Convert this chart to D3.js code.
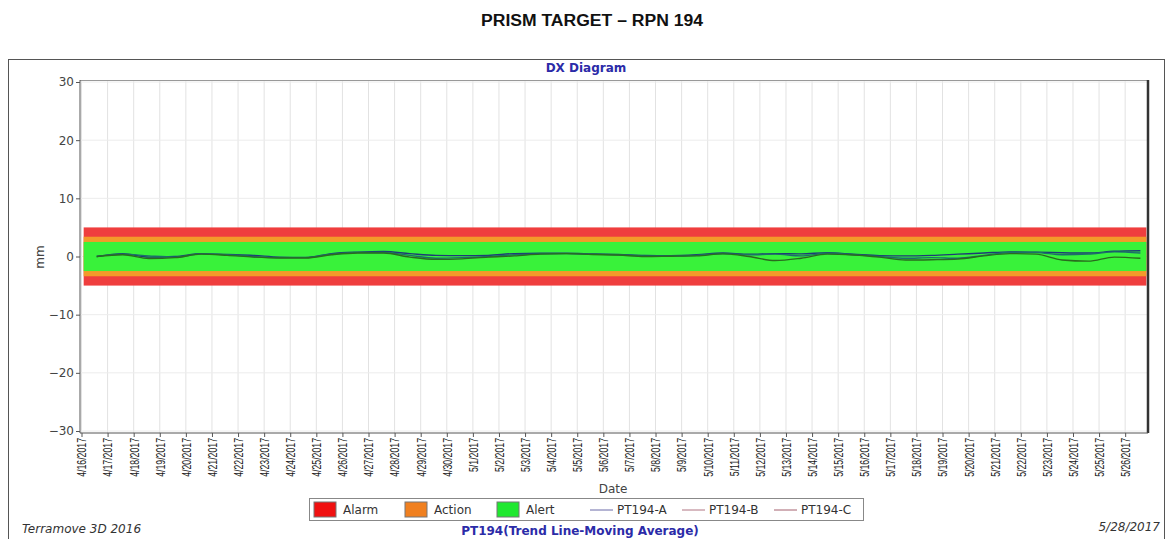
<!doctype html>
<html>
<head>
    <meta charset="utf-8">
    <title>PRISM TARGET - RPN 194</title>
    <script src="https://d3js.org/d3.v7.min.js"></script>
    <style type="text/css">
        html, body { margin: 0; background: #fff; }
        svg { display: block; }
        .ui { font-family: "DejaVu Sans", "Noto Sans", sans-serif; }
        .tk { font-family: "Liberation Sans", Arial, sans-serif; }
    </style>
</head>
<body>
<svg id="chart" width="1166" height="539"></svg>
<script type="text/javascript">
    // tick labels along the date axis
    var tickLabels = ["4/16/2017","4/17/2017","4/18/2017","4/19/2017","4/20/2017","4/21/2017","4/22/2017",
        "4/23/2017","4/24/2017","4/25/2017","4/26/2017","4/27/2017","4/28/2017","4/29/2017","4/30/2017",
        "5/1/2017","5/2/2017","5/3/2017","5/4/2017","5/5/2017","5/6/2017","5/7/2017","5/8/2017","5/9/2017",
        "5/10/2017","5/11/2017","5/12/2017","5/13/2017","5/14/2017","5/15/2017","5/16/2017","5/17/2017",
        "5/18/2017","5/19/2017","5/20/2017","5/21/2017","5/22/2017","5/23/2017","5/24/2017","5/25/2017","5/26/2017"];

    // sample times (one reading per day, afternoon)
    var sampleTimes = ["4/16/2017 14:00","4/17/2017 14:00","4/18/2017 14:00","4/19/2017 14:00","4/20/2017 14:00",
        "4/21/2017 14:00","4/22/2017 14:00","4/23/2017 14:00","4/24/2017 14:00","4/25/2017 14:00","4/26/2017 14:00",
        "4/27/2017 14:00","4/28/2017 14:00","4/29/2017 14:00","4/30/2017 14:00","5/1/2017 14:00","5/2/2017 14:00",
        "5/3/2017 14:00","5/4/2017 14:00","5/5/2017 14:00","5/6/2017 14:00","5/7/2017 14:00","5/8/2017 14:00",
        "5/9/2017 14:00","5/10/2017 14:00","5/11/2017 14:00","5/12/2017 14:00","5/13/2017 14:00","5/14/2017 14:00",
        "5/15/2017 14:00","5/16/2017 14:00","5/17/2017 14:00","5/18/2017 14:00","5/19/2017 14:00","5/20/2017 14:00",
        "5/21/2017 14:00","5/22/2017 14:00","5/23/2017 14:00","5/24/2017 14:00","5/25/2017 14:00","5/26/2017 14:00"];

    var seriesNames = ["PT194-A", "PT194-B", "PT194-C"];

    var valuesA = [0.0, 0.5, -0.1, 0.0, 0.5, 0.35, 0.2, -0.1, -0.15, 0.5, 0.75, 0.85, 0.5, 0.2, 0.15, 0.2, 0.5, 0.55,
        0.55, 0.45, 0.35, 0.2, 0.15, 0.3, 0.6, 0.4, 0.5, 0.45, 0.65, 0.4, 0.15, 0.1, 0.2, 0.4, 0.6, 0.8, 0.75, 0.65,
        0.6, 0.9, 1.0];
    var valuesB = [0.0, 0.4, 0.1, -0.1, 0.45, 0.3, 0.0, -0.2, -0.2, 0.4, 0.7, 0.7, 0.2, -0.3, -0.2, 0.0, 0.3, 0.45,
        0.5, 0.4, 0.3, 0.1, 0.1, 0.2, 0.5, 0.3, 0.4, 0.1, 0.55, 0.3, 0.0, -0.3, -0.2, -0.3, 0.2, 0.7, 0.7, 0.3, 0.4,
        0.8, 0.6];
    var valuesC = [0.0, 0.3, -0.35, -0.2, 0.4, 0.2, -0.1, -0.25, -0.25, 0.3, 0.6, 0.6, -0.1, -0.5, -0.4, -0.1, 0.1,
        0.4, 0.5, 0.35, 0.25, 0.0, 0.05, 0.1, 0.45, 0.0, -0.7, -0.3, 0.4, 0.25, -0.1, -0.6, -0.55, -0.45, 0.1, 0.5,
        0.4, -0.6, -0.8, -0.1, -0.3];

    // threshold bands (mm, symmetric about zero)
    var bandNames = ["Alarm", "Action", "Alert"];
    var bandLimits = [5, 3.4, 2.5];

    var yTicks = [-30, -20, -10, 0, 10, 20, 30];

    var bandColors = ["#ef3e3e", "#f39a2a", "#39f23a"];
    var swatchColors = ["#f01010", "#f08020", "#20e830"];
    var lineColors = ["#1e3a78", "#1c6e6a", "#2a6a1e"];
    var legendLineColors = ["#6a6aa8", "#b07482", "#a4606e"];

    var parseDay = d3.timeParse("%m/%d/%Y");
    var parseTime = d3.timeParse("%m/%d/%Y %H:%M");

    var svg = d3.select("#chart");
    var pLeft = 80, pRight = 1148, pTop = 80, pBottom = 433;

    var x = d3.scaleTime()
        .domain([parseDay(tickLabels[0]), parseTime("5/26/2017 21:00")])
        .range([pLeft + 1.5, pRight]);
    var y = d3.scaleLinear().domain([-30, 30]).range([431, 82]);

    // main title
    svg.append("text").attr("class", "tk")
        .attr("x", 592).attr("y", 26).attr("text-anchor", "middle")
        .attr("textLength", 222).attr("lengthAdjust", "spacingAndGlyphs")
        .style("font-size", "16px").style("font-weight", "bold").style("fill", "#111")
        .text("PRISM TARGET \u2013 RPN 194");

    // outer frame
    svg.append("rect").attr("x", 8.5).attr("y", 59.5).attr("width", 1156).attr("height", 500)
        .attr("fill", "none").attr("stroke", "#555").attr("stroke-width", 1);

    svg.append("text").attr("class", "ui")
        .attr("x", 586).attr("y", 72).attr("text-anchor", "middle")
        .style("font-size", "12px").style("font-weight", "bold").style("fill", "#2b2ba8")
        .text("DX Diagram");

    // grid
    var grid = svg.append("g");
    grid.selectAll(".vg").data(tickLabels).enter().append("line")
        .attr("x1", function(d) { return x(parseDay(d)); })
        .attr("x2", function(d) { return x(parseDay(d)); })
        .attr("y1", pTop).attr("y2", pBottom)
        .attr("stroke", "#e2e2e2").attr("stroke-width", 1);
    grid.selectAll(".hg").data(yTicks).enter().append("line")
        .attr("x1", pLeft).attr("x2", pRight)
        .attr("y1", function(d) { return y(d); }).attr("y2", function(d) { return y(d); })
        .attr("stroke", "#ececec").attr("stroke-width", 1);

    // bands, widest first
    var bandStart = parseTime("4/16/2017 02:00"), bandEnd = parseTime("5/26/2017 19:30");
    svg.selectAll(".band").data(bandLimits).enter().append("rect")
        .attr("x", x(bandStart)).attr("width", x(bandEnd) - x(bandStart))
        .attr("y", function(d) { return y(d); })
        .attr("height", function(d) { return y(-d) - y(d); })
        .attr("fill", function(d, i) { return bandColors[i]; });

    // series
    var line = d3.line().curve(d3.curveMonotoneX)
        .x(function(d) { return x(d.t); })
        .y(function(d) { return y(d.v); });

    [valuesA, valuesB, valuesC].forEach(function(vals, k) {
        var pts = vals.map(function(v, i) { return {t: parseTime(sampleTimes[i]), v: v}; });
        svg.append("path").datum(pts)
            .attr("d", line)
            .attr("fill", "none")
            .attr("stroke", lineColors[k])
            .attr("stroke-width", 1.4);
    });

    // plot border
    svg.append("line").attr("x1", pLeft).attr("x2", pRight).attr("y1", pTop + 0.5).attr("y2", pTop + 0.5)
        .attr("stroke", "#999");
    svg.append("line").attr("x1", pRight).attr("x2", pRight).attr("y1", pTop).attr("y2", pBottom)
        .attr("stroke", "#333").attr("stroke-width", 2.5);

    // y axis
    var yAxis = svg.append("g").attr("transform", "translate(" + pLeft + ",0)")
        .call(d3.axisLeft(y).tickValues(yTicks).tickSize(4).tickPadding(2));
    yAxis.select(".domain").attr("stroke", "#555").attr("d", "M0," + pTop + "V" + pBottom);
    yAxis.selectAll(".tick line").attr("stroke", "#555");
    yAxis.selectAll("text").attr("class", "ui").style("font-size", "12px").style("fill", "#444");

    svg.append("text").attr("class", "ui")
        .attr("transform", "translate(44,257) rotate(-90)")
        .attr("text-anchor", "middle")
        .style("font-size", "12px").style("fill", "#444")
        .text("mm");

    // x axis
    var xAxis = svg.append("g").attr("transform", "translate(0," + pBottom + ")")
        .call(d3.axisBottom(x).tickValues(tickLabels.map(parseDay)).tickSize(4)
            .tickFormat(function(d, i) { return tickLabels[i]; }));
    xAxis.select(".domain").attr("stroke", "#555").attr("d", "M" + pLeft + ",0H" + pRight);
    xAxis.selectAll(".tick line").attr("stroke", "#555");
    xAxis.selectAll("text")
        .attr("class", "tk")
        .attr("text-anchor", "end")
        .attr("dy", "0.35em")
        .attr("transform", "translate(0,5) rotate(-90) scale(0.7,1)")
        .attr("x", 0).attr("y", 0)
        .style("font-size", "12.5px").style("fill", "#222");

    svg.append("text").attr("class", "ui")
        .attr("x", 613).attr("y", 493).attr("text-anchor", "middle")
        .style("font-size", "12px").style("fill", "#444")
        .text("Date");

    // legend
    var lg = svg.append("g").attr("class", "ui");
    lg.append("rect").attr("x", 309.5).attr("y", 498.5).attr("width", 554).attr("height", 22)
        .attr("fill", "#fff").attr("stroke", "#888");
    var swatchX = [314, 405, 497];
    bandNames.forEach(function(name, i) {
        lg.append("rect").attr("x", swatchX[i]).attr("y", 502).attr("width", 22).attr("height", 15)
            .attr("fill", swatchColors[i])
            .attr("stroke", "#777");
        lg.append("text").attr("x", swatchX[i] + 29).attr("y", 514)
            .style("font-size", "12px").style("fill", "#333").text(name);
    });
    var lineX = [590, 682, 774];
    seriesNames.forEach(function(name, i) {
        lg.append("line").attr("x1", lineX[i]).attr("x2", lineX[i] + 23)
            .attr("y1", 510).attr("y2", 510)
            .attr("stroke", legendLineColors[i]).attr("stroke-width", 1);
        lg.append("text").attr("x", lineX[i] + 27).attr("y", 514)
            .style("font-size", "12px").style("fill", "#333").text(name);
    });

    // footer
    svg.append("text").attr("class", "ui")
        .attr("x", 22).attr("y", 533)
        .style("font-size", "12px").style("font-style", "italic").style("fill", "#333")
        .text("Terramove 3D 2016");
    svg.append("text").attr("class", "ui")
        .attr("x", 580).attr("y", 535).attr("text-anchor", "middle")
        .style("font-size", "12px").style("font-weight", "bold").style("fill", "#2b2ba8")
        .text("PT194(Trend Line-Moving Average)");
    svg.append("text").attr("class", "ui")
        .attr("x", 1160).attr("y", 531).attr("text-anchor", "end")
        .style("font-size", "12px").style("font-style", "italic").style("fill", "#333")
        .text("5/28/2017");
</script>
</body>
</html>
